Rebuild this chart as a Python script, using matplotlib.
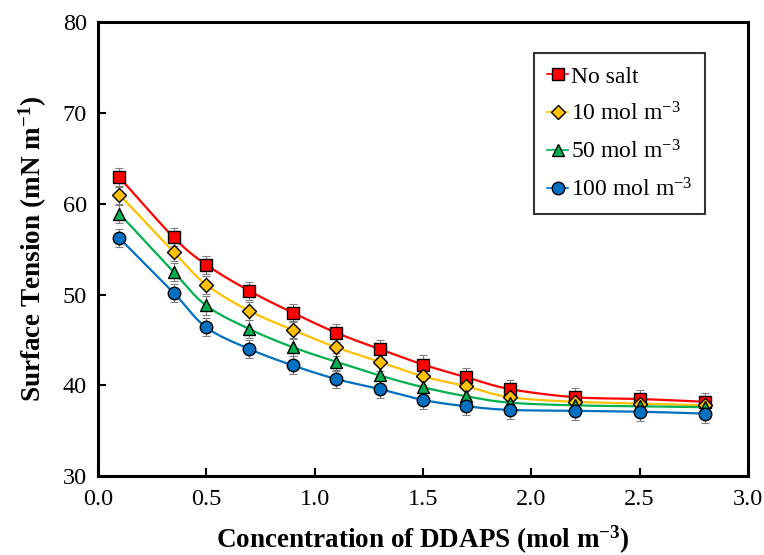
import numpy as np
import matplotlib
matplotlib.use("Agg")
import matplotlib.pyplot as plt

plt.rcParams['font.family'] = ['Liberation Serif', 'DejaVu Serif']
plt.rcParams['mathtext.fontset'] = 'custom'
plt.rcParams['mathtext.rm'] = 'Liberation Serif'
plt.rcParams['mathtext.it'] = 'Liberation Serif:italic'
plt.rcParams['mathtext.bf'] = 'Liberation Serif:bold'

conc = [0.1, 0.35, 0.5, 0.7, 0.9, 1.1, 1.3, 1.5, 1.7, 1.9, 2.2, 2.5, 2.8]
no_salt = [62.9, 56.3, 53.3, 50.4, 48.0, 45.8, 44.0, 42.3, 40.9, 39.6, 38.7, 38.5, 38.2]
salt_10 = [61.0, 54.7, 51.1, 48.2, 46.1, 44.2, 42.6, 41.0, 39.9, 38.7, 38.2, 38.0, 37.8]
salt_50 = [58.9, 52.5, 48.8, 46.2, 44.2, 42.6, 41.1, 39.8, 38.8, 38.1, 37.8, 37.7, 37.6]
salt_100 = [56.2, 50.2, 46.4, 44.0, 42.2, 40.7, 39.6, 38.4, 37.7, 37.3, 37.2, 37.1, 36.9]
err = 1.0

labels = ['No salt', r'10 mol m$^{-3}$', r'50 mol m$^{-3}$', r'100 mol m$^{-3}$']
colors = ['#FF0000', '#FFC000', '#00B050', '#0070C0']
markers = ['s', 'D', '^', 'o']
msizes = [9, 7, 9, 9]


def smooth(x, y, n=20):
    x = np.asarray(x, float)
    y = np.asarray(y, float)
    px = np.concatenate([[2 * x[0] - x[1]], x, [2 * x[-1] - x[-2]]])
    py = np.concatenate([[2 * y[0] - y[1]], y, [2 * y[-1] - y[-2]]])
    xs, ys = [], []
    t = np.linspace(0, 1, n, endpoint=False)
    for i in range(1, len(px) - 2):
        p0, p1, p2, p3 = (np.array([px[j], py[j]]) for j in range(i - 1, i + 3))
        tt = t[:, None]
        pts = 0.5 * ((2 * p1) + (-p0 + p2) * tt + (2 * p0 - 5 * p1 + 4 * p2 - p3) * tt ** 2
                     + (-p0 + 3 * p1 - 3 * p2 + p3) * tt ** 3)
        xs.extend(pts[:, 0])
        ys.extend(pts[:, 1])
    xs.append(x[-1])
    ys.append(y[-1])
    return np.array(xs), np.array(ys)


fig = plt.figure(figsize=(7.64, 5.55), dpi=100)
ax = fig.add_axes([0.128, 0.142, 0.851, 0.818])

series = [no_salt, salt_10, salt_50, salt_100]
for ys, lab, c, m, ms in zip(series, labels, colors, markers, msizes):
    sx, sy = smooth(conc, ys)
    ax.plot(sx, sy, color=c, lw=1.6, zorder=2)
    ax.errorbar(conc, ys, yerr=err, fmt='none', ecolor='#808080', elinewidth=0.8,
                capsize=3, capthick=0.8, zorder=3)
    ax.plot(conc, ys, linestyle='none', marker=m, markersize=ms, markerfacecolor=c,
            markeredgecolor='black', markeredgewidth=1.0, zorder=4)
    ax.plot([], [], color=c, lw=1.2, marker=m, markersize=ms, markerfacecolor=c,
            markeredgecolor='black', markeredgewidth=1.0, label=lab)

ax.set_xlim(0, 3.0)
ax.set_ylim(30, 80)
ax.set_xticks(np.arange(0, 3.01, 0.5))
ax.set_xticklabels([f'{v:.1f}' for v in np.arange(0, 3.01, 0.5)])
ax.set_yticks(np.arange(30, 81, 10))
ax.tick_params(direction='in', length=6, width=1.5, labelsize=17.5)
ax.tick_params(axis='x', pad=9)
ax.tick_params(axis='y', pad=8)
for s in ax.spines.values():
    s.set_linewidth(2.2)

ax.set_xlabel(r'Concentration of DDAPS (mol m$^{\mathbf{-3}}$)', fontsize=19.5,
              fontweight='bold', labelpad=10)
ax.set_ylabel(r'Surface Tension (mN m$^{\mathbf{-1}}$)', fontsize=19.5,
              fontweight='bold', labelpad=10)

leg = ax.legend(loc='upper right', bbox_to_anchor=(0.934, 0.932), borderaxespad=0,
                fontsize=17, frameon=True, fancybox=False, edgecolor='black',
                handlelength=0.9, handletextpad=0.1, labelspacing=0.62,
                borderpad=0.55)
leg.get_frame().set_linewidth(1.5)

fig.savefig('out.png', dpi=100)
